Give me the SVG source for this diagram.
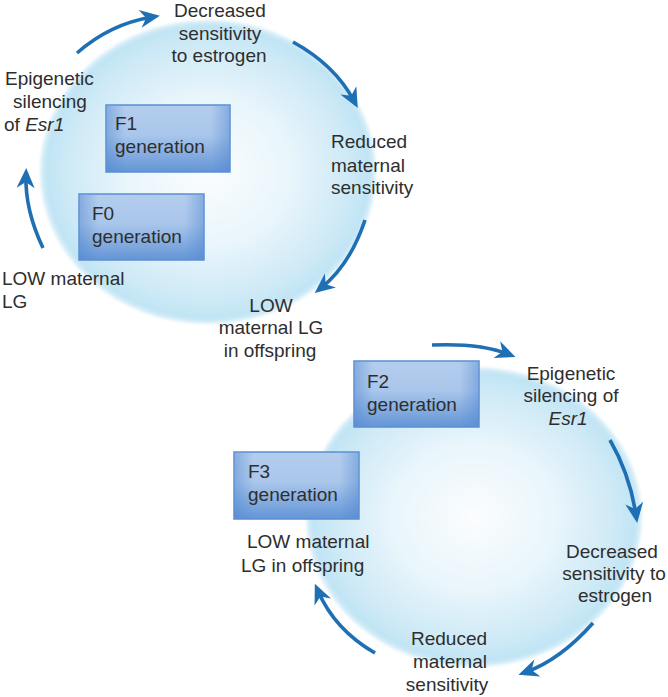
<svg xmlns="http://www.w3.org/2000/svg" width="668" height="697" viewBox="0 0 668 697">
<style>
text{font-family:"Liberation Sans",Arial,sans-serif;font-size:19px;fill:#2e2e2e}
.m{text-anchor:middle}
.box{fill:url(#bg);stroke:#5b8fd2;stroke-width:1.5}
.shade{fill:url(#bh);stroke:none}
.arr{fill:none;stroke:#1f6fb5;stroke-width:3.6;marker-end:url(#ah)}
</style>
<defs>
<radialGradient id="cg" cx="0.5" cy="0.5" r="0.5">
<stop offset="0" stop-color="#fbfdfe"/>
<stop offset="0.5" stop-color="#e8f5fb"/>
<stop offset="0.85" stop-color="#cde9f6"/>
<stop offset="0.96" stop-color="#c0e4f4"/>
<stop offset="1" stop-color="#c0e4f4" stop-opacity="0.5"/>
</radialGradient>
<linearGradient id="bg" x1="0" y1="0" x2="0" y2="1">
<stop offset="0" stop-color="#b4cded"/>
<stop offset="0.45" stop-color="#a9c6eb"/>
<stop offset="1" stop-color="#6495d6"/>
</linearGradient>
<linearGradient id="bh" x1="0" y1="0" x2="1" y2="0">
<stop offset="0" stop-color="#4f86cf" stop-opacity="0.45"/>
<stop offset="0.15" stop-color="#4f86cf" stop-opacity="0"/>
<stop offset="0.85" stop-color="#4f86cf" stop-opacity="0"/>
<stop offset="1" stop-color="#4f86cf" stop-opacity="0.45"/>
</linearGradient>
<filter id="soft" x="-5%" y="-5%" width="110%" height="110%"><feGaussianBlur stdDeviation="1.5"/></filter>
<marker id="ah" markerUnits="userSpaceOnUse" markerWidth="24" markerHeight="24" viewBox="-22 -12 24 24" refX="-8" refY="0" orient="auto">
<path d="M0,0 L-20,-9 L-14,0 L-20,9 Z" fill="#1f6fb5"/>
</marker>
</defs>
<g id="circle-top"><ellipse cx="208" cy="172" rx="168" ry="152" fill="url(#cg)" filter="url(#soft)"/></g>
<g id="circle-bottom"><ellipse cx="474" cy="517" rx="168" ry="150" fill="url(#cg)" filter="url(#soft)"/></g>
<g id="connectors">
<path class="arr" d="M77,53 Q110,24 152,17"/>
<path class="arr" d="M293,42 Q335,65 354,101"/>
<path class="arr" d="M365,220 Q350,265 321,288"/>
<path class="arr" d="M43,248 Q25,210 26,176"/>
<path class="arr" d="M432,345 Q480,343 508,354"/>
<path class="arr" d="M610,440 Q630,475 636,515"/>
<path class="arr" d="M593,623 Q560,660 526,672"/>
<path class="arr" d="M375,653 Q335,630 318,591"/>
</g>
<g id="f1"><rect class="box" x="106" y="105" width="124" height="67"/><rect class="shade" x="106.75" y="105.75" width="122.5" height="65.5"/><text x="115" y="130">F1</text><text x="115" y="153">generation</text></g>
<g id="f0"><rect class="box" x="79" y="194" width="125" height="66"/><rect class="shade" x="79.75" y="194.75" width="123.5" height="64.5"/><text x="92" y="220">F0</text><text x="92" y="243">generation</text></g>
<g id="f2"><rect class="box" x="354" y="361" width="125" height="66"/><rect class="shade" x="354.75" y="361.75" width="123.5" height="64.5"/><text x="367" y="388">F2</text><text x="367" y="411">generation</text></g>
<g id="f3"><rect class="box" x="234" y="452" width="125" height="67"/><rect class="shade" x="234.75" y="452.75" width="123.5" height="65.5"/><text x="248" y="478">F3</text><text x="248" y="501">generation</text></g>
<g id="t-decreased1"><text class="m" x="220" y="17">Decreased</text><text class="m" x="220" y="40">sensitivity</text><text class="m" x="219" y="62">to estrogen</text></g>
<g id="t-epigenetic1"><text x="5" y="85">Epigenetic</text><text x="13" y="108">silencing</text><text x="4" y="131">of <tspan font-style="italic">Esr1</tspan></text></g>
<g id="t-reduced1"><text x="331" y="148">Reduced</text><text x="331" y="172">maternal</text><text x="331" y="194">sensitivity</text></g>
<g id="t-low1"><text x="2" y="285">LOW maternal</text><text x="2" y="308">LG</text></g>
<g id="t-low-offspring1"><text class="m" x="271" y="312">LOW</text><text class="m" x="271" y="334">maternal LG</text><text class="m" x="270" y="357">in offspring</text></g>
<g id="t-epigenetic2"><text class="m" x="571" y="380">Epigenetic</text><text class="m" x="571" y="402">silencing of</text><text class="m" x="568" y="425" font-style="italic">Esr1</text></g>
<g id="t-decreased2"><text class="m" x="612" y="558">Decreased</text><text class="m" x="614" y="580">sensitivity to</text><text class="m" x="615" y="602">estrogen</text></g>
<g id="t-reduced2"><text class="m" x="449" y="645">Reduced</text><text class="m" x="450" y="668">maternal</text><text class="m" x="447" y="691">sensitivity</text></g>
<g id="t-low2"><text x="247" y="548">LOW maternal</text><text x="241" y="572">LG in offspring</text></g>
</svg>
